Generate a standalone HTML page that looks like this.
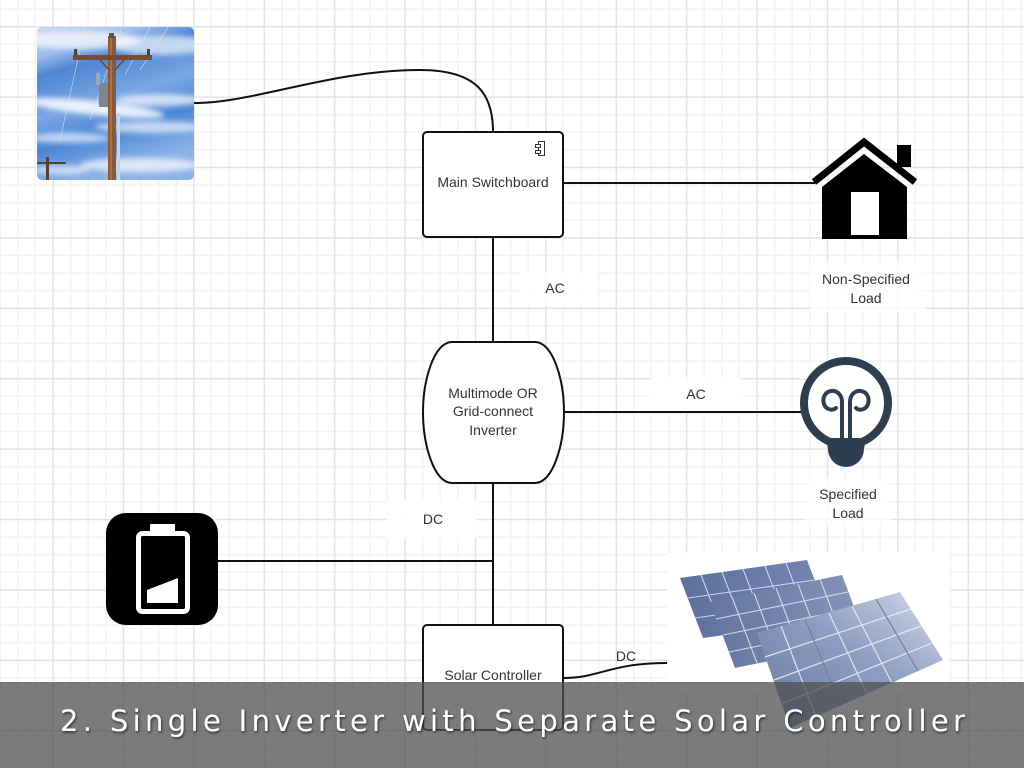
<!DOCTYPE html>
<html><head><meta charset="utf-8">
<style>
html,body{margin:0;padding:0;background:#fff;}
body{width:1024px;height:768px;overflow:hidden;position:relative;}
svg{position:absolute;left:0;top:0;}
</style></head><body>
<svg width="1024" height="768" viewBox="0 0 1024 768" xmlns="http://www.w3.org/2000/svg" font-family="'Liberation Sans', Arial, sans-serif">
<defs>
 <pattern id="grid" patternUnits="userSpaceOnUse" x="52.35" y="25.95" width="70.4" height="70.4">
  <rect width="70.4" height="70.4" fill="#fff"/>
  <g fill="#f1f1f1">
   <rect x="17.6" y="0" width="1.3" height="70.4"/>
   <rect x="35.2" y="0" width="1.3" height="70.4"/>
   <rect x="52.8" y="0" width="1.3" height="70.4"/>
   <rect y="17.6" x="0" height="1.3" width="70.4"/>
   <rect y="35.2" x="0" height="1.3" width="70.4"/>
   <rect y="52.8" x="0" height="1.3" width="70.4"/>
  </g>
  <g fill="#e4e4e4">
   <rect x="0" y="0" width="1.5" height="70.4"/>
   <rect x="0" y="0" width="70.4" height="1.5"/>
  </g>
 </pattern>
 <clipPath id="photoClip"><rect x="37" y="27" width="157" height="153" rx="5"/></clipPath>
 <linearGradient id="sky" x1="0" y1="0" x2="0.3" y2="1">
  <stop offset="0" stop-color="#c6d6f1"/>
  <stop offset="0.18" stop-color="#9ebde9"/>
  <stop offset="0.3" stop-color="#4d87d6"/>
  <stop offset="0.55" stop-color="#7aa6e2"/>
  <stop offset="0.75" stop-color="#4a86d6"/>
  <stop offset="1" stop-color="#8cb3e8"/>
 </linearGradient>
 <filter id="blur3" x="-20%" y="-50%" width="140%" height="200%"><feGaussianBlur stdDeviation="3"/></filter>
 <linearGradient id="pBack" x1="0" y1="0" x2="1" y2="0">
  <stop offset="0" stop-color="#5d6f9b"/><stop offset="1" stop-color="#7587b2"/>
 </linearGradient>
 <linearGradient id="pMid" x1="0" y1="0" x2="1" y2="0">
  <stop offset="0" stop-color="#64769f"/><stop offset="1" stop-color="#8696bd"/>
 </linearGradient>
 <linearGradient id="pFront" x1="0" y1="1" x2="1" y2="0">
  <stop offset="0" stop-color="#66789f"/><stop offset="0.55" stop-color="#8e9ec2"/><stop offset="1" stop-color="#d4dcea"/>
 </linearGradient>
 <filter id="tshadow" x="-5%" y="-30%" width="110%" height="160%">
  <feDropShadow dx="1" dy="1.5" stdDeviation="1.2" flood-color="#000" flood-opacity="0.6"/>
 </filter>
</defs>

<rect x="0" y="0" width="1024" height="768" fill="url(#grid)"/>

<rect x="520" y="272" width="78" height="34" fill="#fff" opacity="0.75"/>
<rect x="650" y="377" width="92" height="34" fill="#fff" opacity="0.85"/>
<rect x="386" y="500" width="91" height="38" fill="#fff" opacity="0.85"/>
<rect x="810" y="262" width="116" height="50" fill="#fff" opacity="0.7"/>
<rect x="805" y="478" width="86" height="48" fill="#fff" opacity="0.7"/>
<rect x="667" y="553" width="283" height="140" fill="#fff"/>

<g clip-path="url(#photoClip)">
 <rect x="37" y="27" width="157" height="153" fill="url(#sky)"/>
 <g fill="#ffffff" filter="url(#blur3)">
  <ellipse cx="80" cy="40" rx="60" ry="9" opacity="0.7"/>
  <ellipse cx="160" cy="45" rx="50" ry="10" opacity="0.65"/>
  <ellipse cx="95" cy="108" rx="70" ry="7" opacity="0.85" transform="rotate(6 95 108)"/>
  <ellipse cx="160" cy="100" rx="45" ry="6" opacity="0.7"/>
  <ellipse cx="150" cy="127" rx="55" ry="6" opacity="0.65"/>
  <ellipse cx="70" cy="138" rx="40" ry="5" opacity="0.65"/>
  <ellipse cx="140" cy="165" rx="60" ry="7" opacity="0.7"/>
  <ellipse cx="60" cy="170" rx="30" ry="5" opacity="0.6"/>
 </g>
 <g stroke="#d9e2ef" stroke-width="0.7" opacity="0.8">
  <line x1="122" y1="27" x2="90" y2="120"/>
  <line x1="150" y1="27" x2="125" y2="75"/>
  <line x1="168" y1="27" x2="140" y2="70"/>
  <line x1="85" y1="27" x2="60" y2="140"/>
 </g>
 <rect x="108" y="36" width="8" height="144" fill="#8a5a38"/>
 <rect x="110" y="36" width="2" height="144" fill="#a7724b"/>
 <rect x="73" y="55" width="79" height="5" fill="#7a4c2d"/>
 <rect x="74" y="49" width="3" height="6" fill="#444"/>
 <rect x="147" y="49" width="3" height="6" fill="#444"/>
 <rect x="109" y="33" width="5" height="5" fill="#555"/>
 <line x1="100" y1="60" x2="109" y2="70" stroke="#6b4a33" stroke-width="1.5"/>
 <line x1="124" y1="60" x2="115" y2="70" stroke="#6b4a33" stroke-width="1.5"/>
 <rect x="99" y="83" width="9" height="24" fill="#7d858f"/>
 <rect x="96" y="73" width="4" height="12" fill="#9aa7b8"/>
 <rect x="117" y="113" width="3" height="67" fill="#cfd3d8"/>
 <rect x="46" y="157" width="3" height="23" fill="#5a4030"/>
 <rect x="37" y="162" width="29" height="2" fill="#5a4030"/>
</g>

<g fill="none" stroke="#111" stroke-width="2">
 <path d="M194,103 C255,103 330,70 420,70 C478,70 493,95 493,132"/>
 <line x1="563" y1="183" x2="815" y2="183"/>
 <line x1="493" y1="237" x2="493" y2="342"/>
 <line x1="564" y1="412" x2="801" y2="412"/>
 <line x1="493" y1="483" x2="493" y2="625"/>
 <line x1="218" y1="561" x2="493" y2="561"/>
 <path d="M563,678 C600,678 610,663 667,663"/>
</g>

<rect x="423" y="132" width="140" height="105" rx="4" fill="#fff" stroke="#111" stroke-width="2"/>
<g fill="#fff" stroke="#333" stroke-width="1">
 <rect x="538.5" y="141.5" width="6" height="14"/>
 <rect x="535.5" y="144.5" width="5" height="3"/>
 <rect x="535.5" y="150.5" width="5" height="3"/>
</g>
<text x="493" y="187" text-anchor="middle" font-size="14" fill="#333">Main Switchboard</text>

<g>
 <rect x="897" y="145" width="14" height="22" fill="#000"/>
 <polyline points="814,182 864,142 915,182" fill="none" stroke="#000" stroke-width="7"/>
 <polygon points="822,187 864,154 907,187 907,239 822,239" fill="#000"/>
 <rect x="851" y="192" width="28" height="43" fill="#fff"/>
</g>
<text x="866" y="284" text-anchor="middle" font-size="14" fill="#333">Non-Specified</text>
<text x="866" y="303" text-anchor="middle" font-size="14" fill="#333">Load</text>

<text x="555" y="293" text-anchor="middle" font-size="14" fill="#333">AC</text>
<text x="696" y="399" text-anchor="middle" font-size="14" fill="#333">AC</text>

<path d="M452,342 H535 C553,342 564,380 564,412 C564,445 553,483 535,483 H452 C434,483 423,445 423,412 C423,380 434,342 452,342 Z" fill="#fff" stroke="#111" stroke-width="2"/>
<text x="493" y="398" text-anchor="middle" font-size="14" fill="#333">Multimode OR</text>
<text x="493" y="416" text-anchor="middle" font-size="14" fill="#333">Grid-connect</text>
<text x="493" y="435" text-anchor="middle" font-size="14" fill="#333">Inverter</text>

<circle cx="846" cy="403" r="42" stroke-width="8" fill="#fff" stroke="#2c3e50"/>
<path d="M826,438 L866,438 L864,449 A18,18 0 0 1 828,449 Z" fill="#2c3e50"/>
<g fill="none" stroke="#2c3e50" stroke-width="4" stroke-linecap="round">
 <path d="M842,442 L842,402 C842,394 836,390 831,391 C825,392 822,398 824,404 C826,410 833,411 836,408"/>
 <path d="M850,442 L850,402 C850,394 856,390 861,391 C867,392 870,398 868,404 C866,410 859,411 856,408"/>
</g>
<text x="848" y="499" text-anchor="middle" font-size="14" fill="#333">Specified</text>
<text x="848" y="518" text-anchor="middle" font-size="14" fill="#333">Load</text>

<text x="433" y="524" text-anchor="middle" font-size="14" fill="#333">DC</text>

<rect x="106" y="513" width="112" height="112" rx="20" fill="#000"/>
<rect x="138.5" y="533.5" width="49" height="78" rx="4" fill="none" stroke="#fff" stroke-width="5"/>
<rect x="150" y="524" width="25" height="8" rx="1" fill="#fff"/>
<polygon points="147,590 178,578 178,603 147,603" fill="#fff"/>

<rect x="423" y="625" width="140" height="105" rx="4" fill="#fff" stroke="#111" stroke-width="2"/>
<text x="493" y="680" text-anchor="middle" font-size="14" fill="#333">Solar Controller</text>
<text x="626" y="661" text-anchor="middle" font-size="14" fill="#333">DC</text>

<g>
 <polygon points="680,578 807,560 830,620 703,638" fill="url(#pBack)"/>
 <g stroke="#dfe6f2" stroke-width="1.1" opacity="0.85">
  <line x1="701" y1="575" x2="724" y2="635"/>
  <line x1="722" y1="572" x2="745" y2="632"/>
  <line x1="743" y1="569" x2="766" y2="629"/>
  <line x1="765" y1="566" x2="788" y2="626"/>
  <line x1="786" y1="563" x2="809" y2="623"/>
  <line x1="688" y1="598" x2="815" y2="580"/>
  <line x1="695" y1="618" x2="822" y2="600"/>
 </g>
 <polygon points="710,602 842,575 867,641 735,668" fill="url(#pMid)"/>
 <g stroke="#e3e9f4" stroke-width="1.1" opacity="0.85">
  <line x1="732" y1="597" x2="757" y2="663"/>
  <line x1="754" y1="593" x2="779" y2="659"/>
  <line x1="776" y1="588" x2="801" y2="654"/>
  <line x1="798" y1="584" x2="823" y2="650"/>
  <line x1="820" y1="579" x2="845" y2="645"/>
  <line x1="716" y1="619" x2="848" y2="592"/>
  <line x1="723" y1="635" x2="855" y2="608"/>
  <line x1="729" y1="652" x2="861" y2="625"/>
 </g>
 <polygon points="757,633 900,592 943,660 790,728" fill="url(#pFront)"/>
 <g stroke="#eef2f8" stroke-width="1.2" opacity="0.85">
  <line x1="781" y1="626" x2="816" y2="717"/>
  <line x1="805" y1="619" x2="841" y2="706"/>
  <line x1="829" y1="613" x2="867" y2="694"/>
  <line x1="852" y1="606" x2="892" y2="683"/>
  <line x1="876" y1="599" x2="918" y2="671"/>
  <line x1="765" y1="657" x2="911" y2="609"/>
  <line x1="774" y1="680" x2="921" y2="626"/>
  <line x1="782" y1="704" x2="932" y2="643"/>
 </g>
 <g stroke="#3e4e78" stroke-width="1.2" opacity="0.7">
  <line x1="805" y1="619" x2="841" y2="706"/>
  <line x1="876" y1="599" x2="918" y2="671"/>
 </g>
</g>

<rect x="0" y="682" width="1024" height="86" fill="rgb(79,79,79)" fill-opacity="0.75"/>
<text x="60" y="731" font-family="'DejaVu Sans', 'Liberation Sans', sans-serif" font-size="29" fill="#fff" textLength="905" lengthAdjust="spacing" filter="url(#tshadow)">2. Single Inverter with Separate Solar Controller</text>
</svg>
</body></html>
